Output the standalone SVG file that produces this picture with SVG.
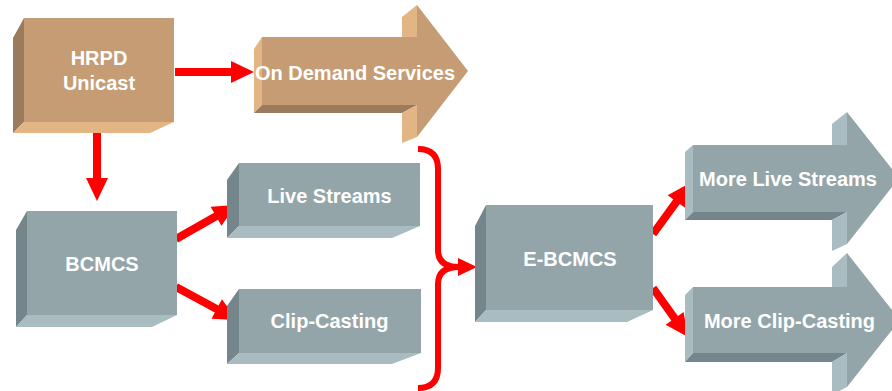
<svg xmlns="http://www.w3.org/2000/svg" width="892" height="391" viewBox="0 0 892 391">
  <defs>
    <style>
      .tan-front { fill: #c59c73; }
      .tan-light { fill: #e2b585; }
      .tan-dark { fill: #9a7b5b; }
      .grey-front { fill: #93a5a9; }
      .grey-light { fill: #a8bcc1; }
      .grey-dark { fill: #74858b; }
      .label { fill: #ffffff; font-family: "Liberation Sans", Arial, sans-serif; font-weight: bold; font-size: 20px; text-anchor: middle; }
      .flow { stroke: #ff0000; stroke-width: 8; fill: none; marker-end: url(#head); }
      .brace { stroke: #ff0000; stroke-width: 6; fill: none; }
    </style>
    <marker id="head" markerUnits="userSpaceOnUse" markerWidth="24" markerHeight="23" refX="1" refY="11" orient="auto" overflow="visible">
      <path d="M0,0 L23,11 L0,22 Z" fill="#ff0000"/>
    </marker>
    <marker id="headSmall" markerUnits="userSpaceOnUse" markerWidth="20" markerHeight="18" refX="1" refY="9" orient="auto" overflow="visible">
      <path d="M0,0 L19,9 L0,18 Z" fill="#ff0000"/>
    </marker>
  </defs>

  <!-- connectors -->
  <g id="connectors">
    <line class="flow" x1="175" y1="72" x2="232" y2="72"/>
    <line class="flow" x1="97" y1="131" x2="97" y2="179"/>
    <line class="flow" x1="176" y1="239" x2="216.9" y2="215.8"/>
    <line class="flow" x1="176" y1="287" x2="217.6" y2="309.5"/>
    <path class="brace" d="M418,149 Q438,149 438,169 L438,250 Q438,267 459,267" marker-end="url(#headSmall)"/>
    <path class="brace" d="M459,267 Q438,267 438,284 L438,368 Q438,388 418,388"/>
    <line class="flow" x1="653" y1="234" x2="677.1" y2="200.8"/>
    <line class="flow" x1="653" y1="288" x2="675.2" y2="319.1"/>
  </g>

  <!-- HRPD Unicast box -->
  <g id="hrpd-unicast">
    <polygon class="tan-dark" points="13,38 24,18 24,122 13,133"/>
    <polygon class="tan-light" points="13,133 24,122 174,122 150,133"/>
    <rect class="tan-front" x="24" y="18" width="150" height="104"/>
    <text class="label" x="99" y="65">HRPD</text>
    <text class="label" x="99" y="90">Unicast</text>
  </g>

  <!-- On Demand Services arrow -->
  <g id="on-demand-services">
    <polygon class="tan-light" points="254,49 262,37 262,105 254,113"/>
    <polygon class="tan-dark" points="254,113 262,105 417,105 402,113"/>
    <polygon class="tan-light" points="402,17 417,5 417,37 402,37"/>
    <polygon class="tan-light" points="402,113 417,105 417,137 402,143"/>
    <polygon class="tan-front" points="262,37 417,37 417,5 468,71 417,137 417,105 262,105"/>
    <text class="label" x="355" y="80">On Demand Services</text>
  </g>

  <!-- BCMCS box -->
  <g id="bcmcs">
    <polygon class="grey-dark" points="16,230 27,211 27,315 16,327"/>
    <polygon class="grey-light" points="16,327 27,315 177,315 152,327"/>
    <rect class="grey-front" x="27" y="211" width="150" height="104"/>
    <text class="label" x="102" y="271">BCMCS</text>
  </g>

  <!-- Live Streams box -->
  <g id="live-streams">
    <polygon class="grey-dark" points="227,180 239,163 239,226 227,238"/>
    <polygon class="grey-light" points="227,238 239,226 420,226 392,238"/>
    <rect class="grey-front" x="239" y="163" width="181" height="63"/>
    <text class="label" x="329.5" y="203">Live Streams</text>
  </g>

  <!-- Clip-Casting box -->
  <g id="clip-casting">
    <polygon class="grey-dark" points="227,306 239,289 239,353 227,364"/>
    <polygon class="grey-light" points="227,364 239,353 421,353 392,364"/>
    <rect class="grey-front" x="239" y="289" width="182" height="64"/>
    <text class="label" x="329.5" y="328">Clip-Casting</text>
  </g>

  <!-- E-BCMCS box -->
  <g id="e-bcmcs">
    <polygon class="grey-dark" points="475,226 486,205 486,310 475,322"/>
    <polygon class="grey-light" points="475,322 486,310 653,310 627,322"/>
    <rect class="grey-front" x="486" y="205" width="167" height="105"/>
    <text class="label" x="570" y="266">E-BCMCS</text>
  </g>

  <!-- More Live Streams arrow -->
  <g id="more-live-streams">
    <polygon class="grey-light" points="685,152 693,145 693,212 685,220"/>
    <polygon class="grey-dark" points="685,220 693,212 847,212 832,220"/>
    <polygon class="grey-light" points="832,124 847,112 847,145 832,145"/>
    <polygon class="grey-light" points="832,220 847,212 847,244 832,251"/>
    <polygon class="grey-front" points="693,145 847,145 847,112 899,178 847,244 847,212 693,212"/>
    <text class="label" x="788" y="186">More Live Streams</text>
  </g>

  <!-- More Clip-Casting arrow -->
  <g id="more-clip-casting">
    <polygon class="grey-light" points="685,295 693,287 693,353 685,362"/>
    <polygon class="grey-dark" points="685,362 693,353 847,353 832,362"/>
    <polygon class="grey-light" points="832,267 847,253 847,287 832,287"/>
    <polygon class="grey-light" points="832,362 847,353 847,387 832,395"/>
    <polygon class="grey-front" points="693,287 847,287 847,253 900,320 847,387 847,353 693,353"/>
    <text class="label" x="789.5" y="328">More Clip-Casting</text>
  </g>
</svg>
